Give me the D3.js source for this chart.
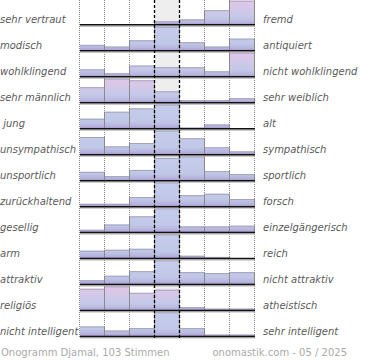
<!DOCTYPE html>
<html>
<head>
<meta charset="utf-8">
<script src="https://cdn.jsdelivr.net/npm/d3@7"></script>
<style>
    body { margin: 0; background: #fff; }
    svg { display: block; }
    text { font-family: 'DejaVu Sans', sans-serif; }
</style>
</head>
<body>
<svg id="onogramm" width="370" height="360"></svg>
<script>
const leftLabels = ['sehr vertraut', 'modisch', 'wohlklingend', 'sehr männlich', ' jung', 'unsympathisch',
    'unsportlich', 'zurückhaltend', 'gesellig', 'arm', 'attraktiv', 'religiös', 'nicht intelligent'];
const rightLabels = ['fremd', 'antiquiert', 'nicht wohlklingend', 'sehr weiblich', 'alt', 'sympathisch',
    'sportlich', 'forsch', 'einzelgängerisch', 'reich', 'nicht attraktiv', 'atheistisch', 'sehr intelligent'];

// share of votes per scale step (1..7), per row, relative to the row's largest step
const votes = [
    [0, 0, 0, 14, 22, 60, 100],
    [24, 17, 43, 100, 35, 17, 50],
    [30, 14, 46, 39, 39, 22, 100],
    [64, 100, 93, 47, 10, 10, 18],
    [41, 70, 84, 100, 4, 17, 2],
    [73, 34, 48, 100, 68, 30, 13],
    [36, 18, 44, 94, 100, 39, 27],
    [11, 11, 39, 100, 47, 53, 31],
    [11, 33, 67, 100, 25, 25, 28],
    [32, 36, 40, 100, 11, 6, 0],
    [17, 36, 55, 100, 51, 47, 51],
    [90, 100, 73, 86, 13, 7, 7],
    [41, 24, 34, 100, 34, 7, 7]
];
const steps = [0, 1, 2, 3, 4, 5, 6];
const footerLeft = 'Onogramm Djamal, 103 Stimmen';
const footerRight = 'onomastik.com - 05 / 2025';

const barH = 24;
const svg = d3.select('#onogramm');

const x = d3.scaleBand().domain(steps).range([80, 255]);
const row = d3.scaleBand().domain(d3.range(votes.length)).range([-1.3, 336.3]);
const base = i => row(i) + row.step();
const edge = i => (i < 7 ? x(i) : x(6) + x.bandwidth()) - 0.5;
const mid = 3;

const defs = svg.append('defs');
const grad = (id, stops) => defs.append('linearGradient')
    .attr('id', id)
    .attr('gradientUnits', 'userSpaceOnUse')
    .attr('x1', 0).attr('y1', 0).attr('x2', 0).attr('y2', barH)
    .selectAll('stop').data(stops).enter().append('stop')
    .attr('offset', d => d[0])
    .attr('stop-color', d => d[1]);

grad('hot', [[0, '#e2c6e8'], [0.35, '#d3c8e8'], [0.7, '#c4c8e8'], [0.9, '#bab8e0'], [1, '#a394cc']]);
grad('cool', [[0, '#c6cdeb'], [0.7, '#c1c7e7'], [0.9, '#b7b4de'], [1, '#a394cc']]);

// neutral column background
svg.append('rect')
    .attr('x', x(mid)).attr('y', 0)
    .attr('width', x.bandwidth()).attr('height', 338)
    .attr('fill', '#eeeeee');

// dotted step lines
svg.selectAll('.grid')
    .data([0, 1, 2, 5, 6, 7])
    .enter().append('line')
    .attr('x1', edge).attr('x2', edge)
    .attr('y1', 0).attr('y2', 338)
    .attr('stroke', '#888')
    .attr('stroke-dasharray', '1,1');

const rows = svg.selectAll('.row')
    .data(votes)
    .enter().append('g')
    .attr('transform', (d, i) => `translate(0, ${base(i) - barH})`);

rows.each(function (vals) {
    const g = d3.select(this);
    const y = d3.scaleLinear().domain([0, d3.max(vals)]).range([0, barH]);
    // rows whose mode is far from neutral get the pink top
    const mode = vals.indexOf(d3.max(vals));
    const fill = Math.abs(mode - mid) >= 2 ? 'url(#hot)' : 'url(#cool)';

    g.selectAll('rect')
        .data(vals)
        .enter().append('rect')
        .attr('x', (d, i) => x(i))
        .attr('y', d => barH - y(d))
        .attr('width', x.bandwidth())
        .attr('height', d => y(d))
        .attr('fill', fill);

    // top edges
    vals.forEach((d, i) => {
        if (d <= 0) return;
        g.append('line')
            .attr('x1', x(i)).attr('x2', x(i) + x.bandwidth())
            .attr('y1', barH - y(d) + 0.5).attr('y2', barH - y(d) + 0.5)
            .attr('stroke', '#a4a4ba');
    });

    // vertical edges between steps
    [1, 2, 3, 4, 5, 6, 7].forEach(i => {
        const h = i < 7 ? Math.max(y(vals[i - 1]), y(vals[i])) : y(vals[6]);
        if (h <= 0) return;
        g.append('line')
            .attr('x1', edge(i)).attr('x2', edge(i))
            .attr('y1', barH - h).attr('y2', barH)
            .attr('stroke', '#8a8a8a');
    });

    // baseline with shadow
    g.append('line')
        .attr('x1', 80).attr('x2', 255)
        .attr('y1', barH + 1.6).attr('y2', barH + 1.6)
        .attr('stroke', '#b0b0b0');
    g.append('line')
        .attr('x1', 80).attr('x2', 255)
        .attr('y1', barH + 0.2).attr('y2', barH + 0.2)
        .attr('stroke', '#111')
        .attr('stroke-width', 1.5);
});

// dashed neutral borders
svg.selectAll('.neutral')
    .data([mid, mid + 1])
    .enter().append('line')
    .attr('x1', edge).attr('x2', edge)
    .attr('y1', 0).attr('y2', 338)
    .attr('stroke', '#000')
    .attr('stroke-width', 1.3)
    .attr('stroke-dasharray', '3,2');

svg.selectAll('.left')
    .data(leftLabels)
    .enter().append('text')
    .attr('x', 0)
    .attr('y', (d, i) => base(i) - 1.2)
    .style('white-space', 'pre')
    .style('font-size', '10px')
    .style('font-style', 'italic')
    .attr('fill', '#5a5a5a')
    .text(d => d);

svg.selectAll('.right')
    .data(rightLabels)
    .enter().append('text')
    .attr('x', 263)
    .attr('y', (d, i) => base(i) - 1.2)
    .style('font-size', '10px')
    .style('font-style', 'italic')
    .attr('fill', '#5a5a5a')
    .text(d => d);

svg.append('text')
    .attr('x', 1).attr('y', 355.5)
    .style('font-size', '10px')
    .attr('fill', '#aaa')
    .text(footerLeft);

svg.append('text')
    .attr('x', 347).attr('y', 355.5)
    .attr('text-anchor', 'end')
    .style('font-size', '10px')
    .attr('fill', '#aaa')
    .text(footerRight);
</script>
</body>
</html>
